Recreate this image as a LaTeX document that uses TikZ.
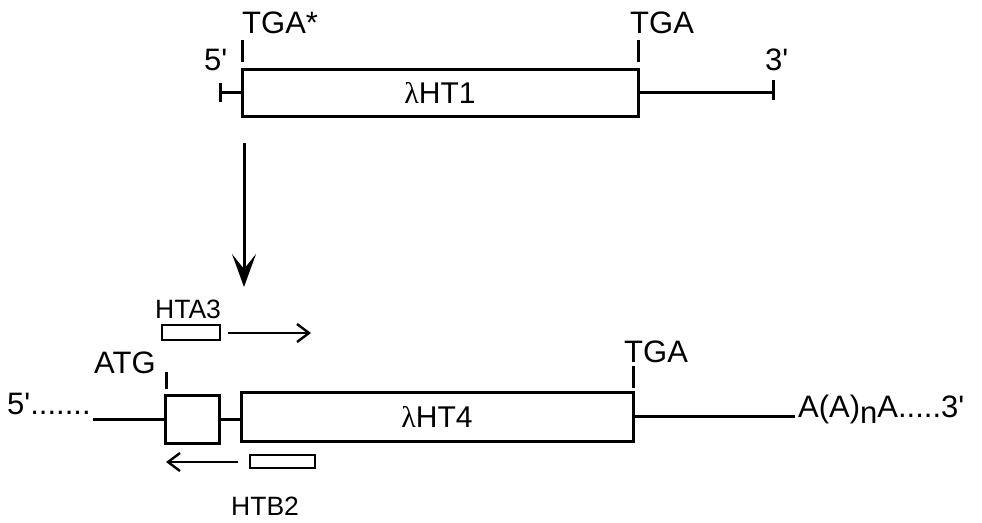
\documentclass[tikz,border=0pt]{standalone}
\usepackage{fontspec}
\setmainfont{Liberation Sans}
\newfontfamily\lamfont{Liberation Serif}
\usetikzlibrary{arrows.meta}
\newcommand{\pq}{\textquotesingle}
\begin{document}
\begin{tikzpicture}[x=1pt,y=-1pt,
  ln/.style={line width=3pt},
  gbox/.style={draw,line width=3pt,inner sep=0pt,outer sep=0pt},
  pbox/.style={draw,line width=2.4pt,inner sep=0pt,outer sep=0pt},
  lbl/.style={inner sep=0pt,anchor=base west,font=\fontsize{31}{34}\selectfont},
  slbl/.style={inner sep=0pt,anchor=base west,font=\fontsize{26.5}{30}\selectfont},
  blab/.style={font=\fontsize{30}{33}\selectfont}]
\useasboundingbox (0,0) rectangle (982,522);
% ---- top construct
\node[gbox,minimum width=396pt,minimum height=47pt] (ht1) at (440,92.5) {};
\node[blab] (ht1lab) at (440,93) {{\lamfont λ}HT1};
\coordinate (l5) at (220,92.5);
\coordinate (r3) at (773,92.5);
\draw[ln] (ht1.west) -- (l5);
\draw[ln] (220,83) -- (220,102);
\draw[ln] (ht1.east) -- (r3);
\draw[ln] (773,80) -- (773,100);
\draw[ln] (242,40) -- (242,62);
\draw[ln] (638,40) -- (638,62);
\node[lbl] (tgas) at (242,33) {TGA*};
\node[lbl] (tga1) at (630,33) {TGA};
\node[lbl] (p5a) at (204,70) {5\pq};
\node[lbl] (p3a) at (765,70) {3\pq};
% ---- big arrow
\coordinate (da) at (244,143);
\coordinate (db) at (244,287);
\draw[line width=3pt,-{Stealth[length=33pt,width=24pt,inset=15pt]}] (da) -- (db);
% ---- bottom construct
\node[gbox,minimum width=54pt,minimum height=48pt] (ex1) at (192,419) {};
\node[gbox,minimum width=392pt,minimum height=49pt] (ht4) at (437,416.5) {};
\node[blab] (ht4lab) at (437,417) {{\lamfont λ}HT4};
\coordinate (lstart) at (93,419);
\coordinate (rend) at (795,417);
\draw[ln] (lstart) -- (ex1.west);
\draw[ln] (ex1.east) -- (ex1.east -| ht4.west);
\draw[ln] (ht4.east) -- (ht4.east -| rend);
\draw[ln] (166,372) -- (166,389);
\draw[ln] (633,366) -- (633,388);
\node[lbl] (atg) at (94,373) {ATG};
\node[lbl] (tga2) at (624,362) {TGA};
\node[lbl] (p5b) at (7,414) {5\pq.......};
\node[lbl] (tail) at (798,417) {A(A)\raisebox{-6pt}{n}A.....3\pq};
% primers
\node[pbox,minimum width=58pt,minimum height=15pt] (hta3) at (191,332.5) {};
\node[slbl] (hta3lab) at (155,318) {HTA3};
\coordinate (a3s) at (228,333);
\coordinate (a3e) at (311,333);
\draw[line width=2.4pt,-{Straight Barb[length=12pt,width=18pt,line width=2.4pt]}] (a3s) -- (a3e);
\node[pbox,minimum width=65pt,minimum height=13pt] (htb2) at (282.5,461.5) {};
\node[slbl] (htb2lab) at (231,515) {HTB2};
\coordinate (b2s) at (238,462);
\coordinate (b2e) at (166,462);
\draw[line width=2.4pt,-{Straight Barb[length=12pt,width=18pt,line width=2.4pt]}] (b2s) -- (b2e);
\end{tikzpicture}
\end{document}
